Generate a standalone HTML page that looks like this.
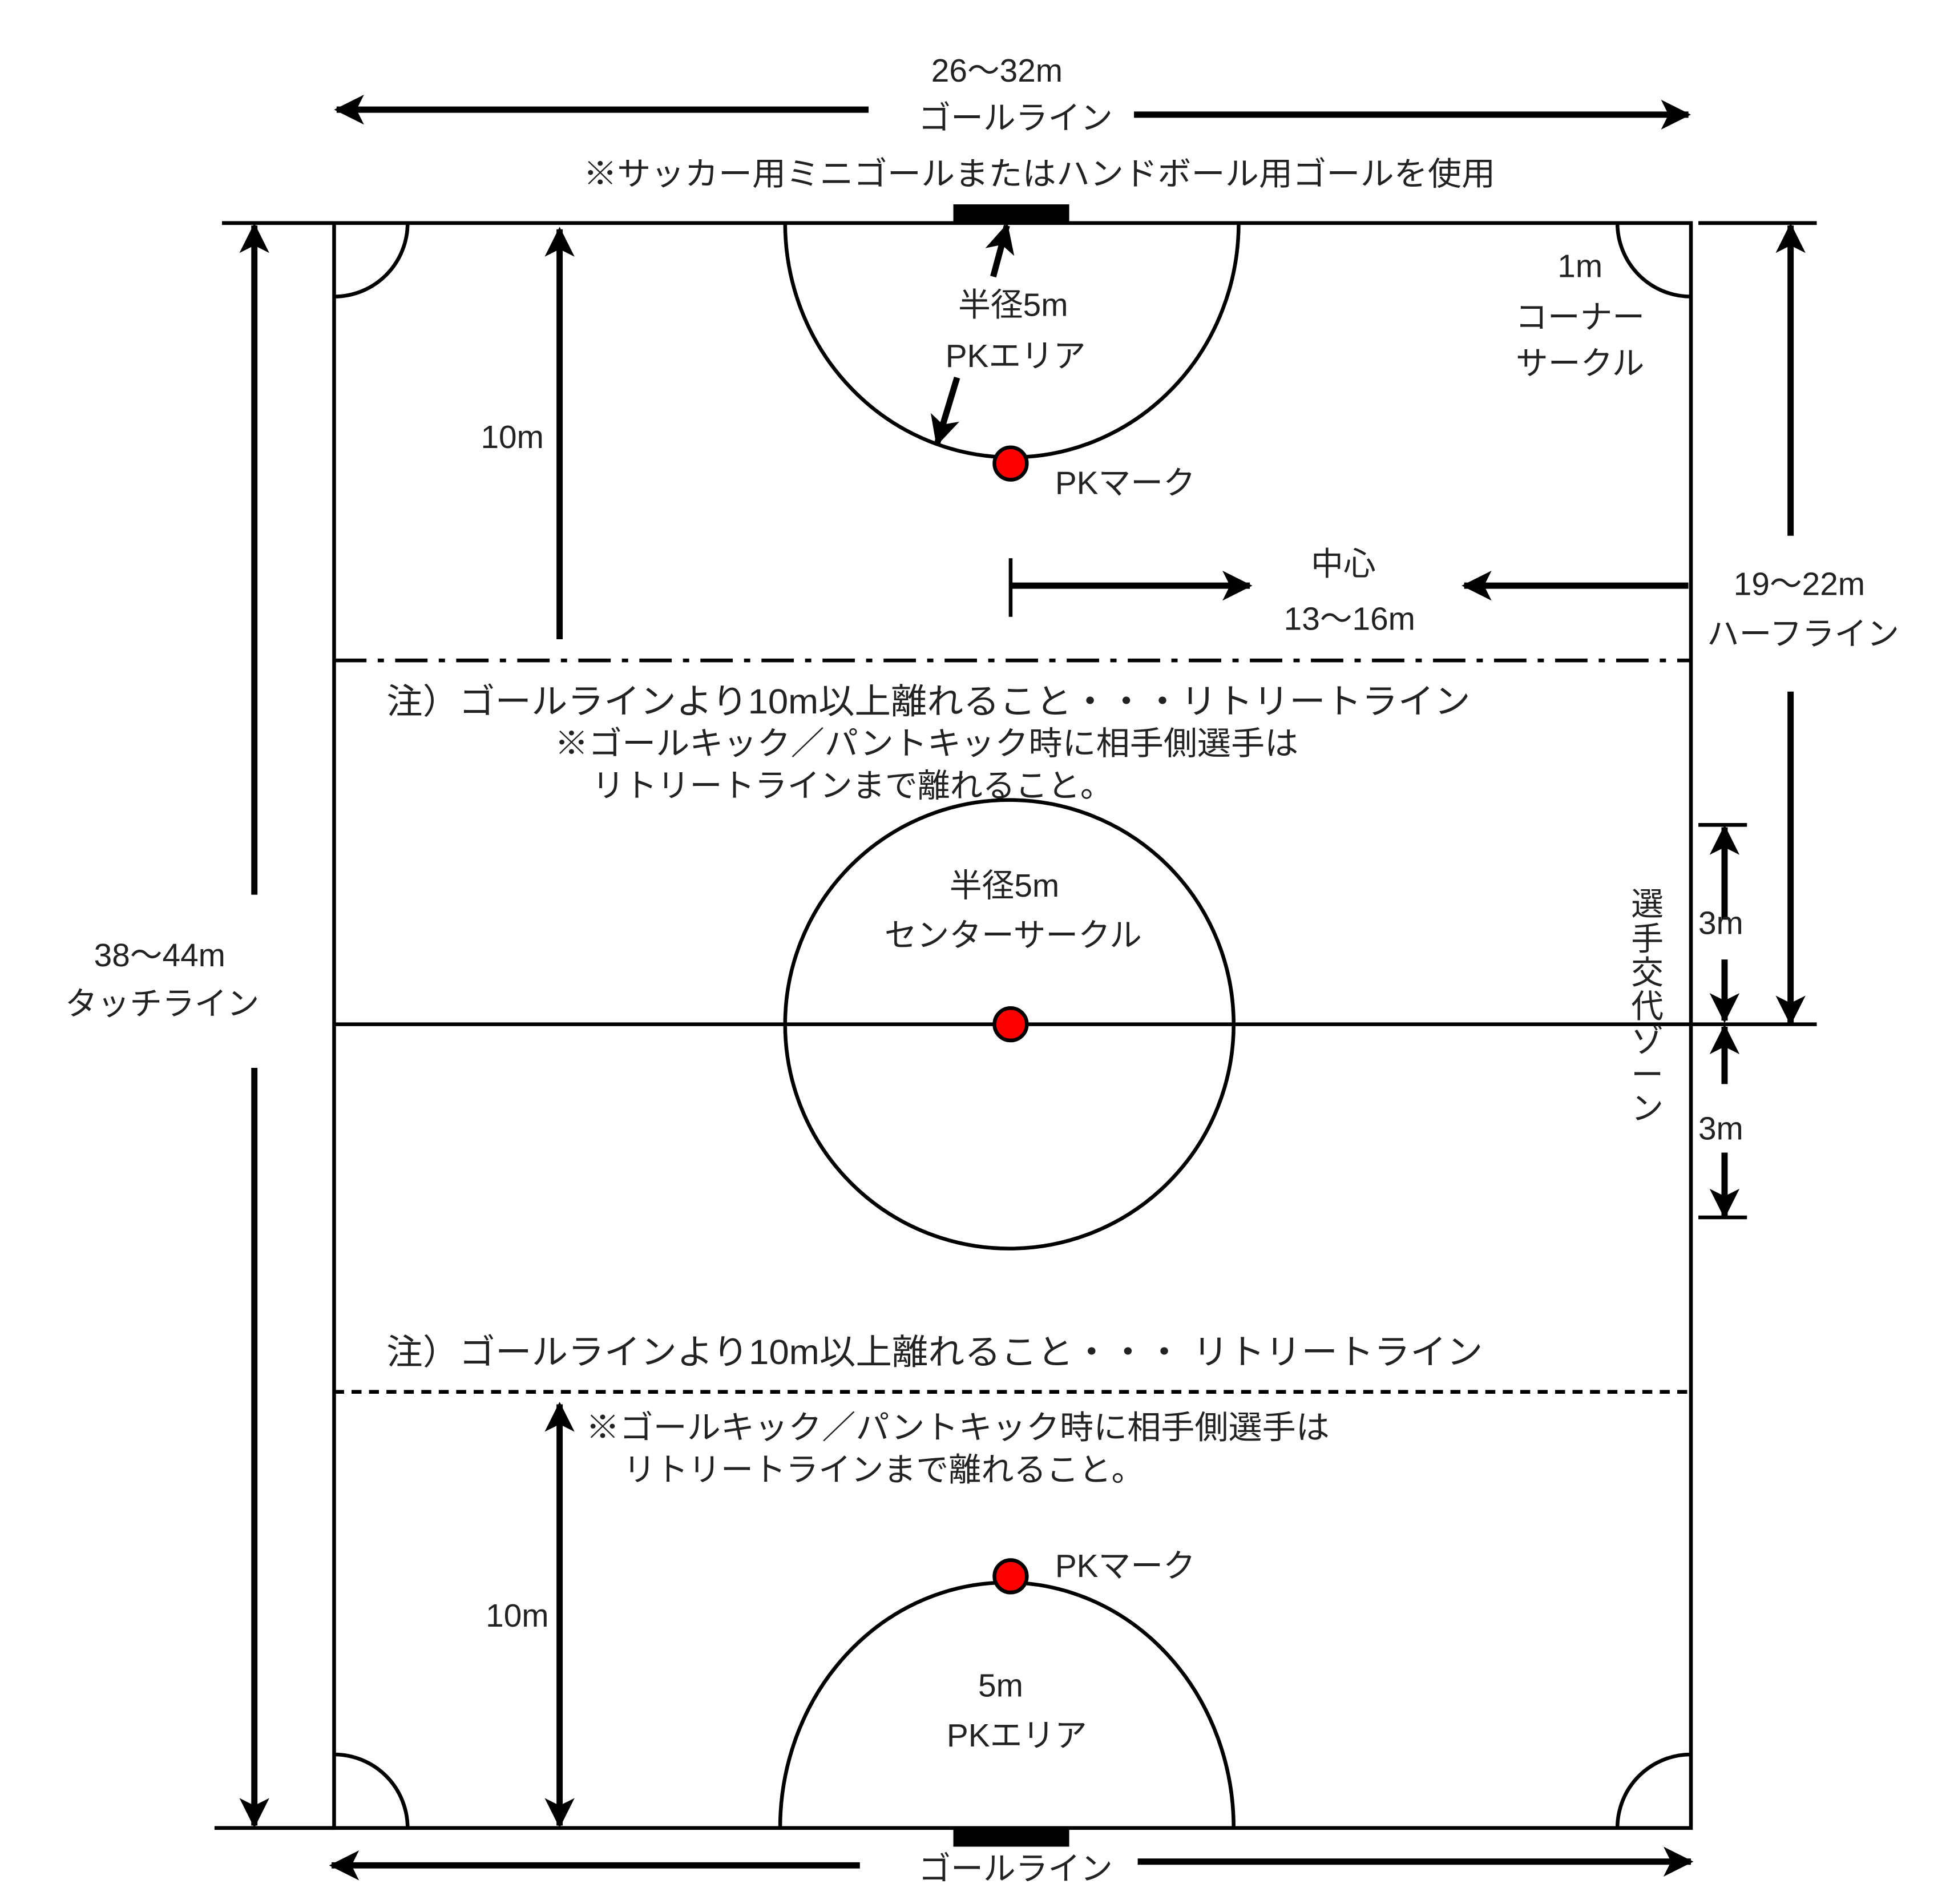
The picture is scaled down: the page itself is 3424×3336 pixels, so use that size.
<!DOCTYPE html>
<html><head><meta charset="utf-8"><style>
html,body{margin:0;padding:0;background:#fff}
svg{display:block}
text{font-family:"Liberation Sans","Noto Sans CJK JP",sans-serif;font-size:26px;fill:#222;dominant-baseline:central}
</style></head><body>
<svg width="3424" height="3336" viewBox="0 0 1568 1528" xmlns="http://www.w3.org/2000/svg">
<defs>
<marker id="a" markerUnits="userSpaceOnUse" markerWidth="30" markerHeight="30" refX="22" refY="12" orient="auto">
<path d="M0,0 L24,12 L0,24 L6,12 Z" fill="#000"/>
</marker>
</defs>
<rect width="1568" height="1528" fill="#fff"/>
<g stroke="#000" stroke-width="5" fill="none">
<line x1="697" y1="88" x2="270" y2="88" marker-end="url(#a)"/>
<line x1="910" y1="92" x2="1355" y2="92" marker-end="url(#a)"/>
<line x1="690" y1="1497" x2="266" y2="1497" marker-end="url(#a)"/>
<line x1="913" y1="1494" x2="1357" y2="1494" marker-end="url(#a)"/>
</g>
<text x="800" y="57" text-anchor="middle">26～32m</text>
<text x="815" y="95" text-anchor="middle">ゴールライン</text>
<text x="468" y="140" textLength="732" lengthAdjust="spacingAndGlyphs">※サッカー用ミニゴールまたはハンドボール用ゴールを使用</text>
<text x="815" y="1500" text-anchor="middle">ゴールライン</text>
<g stroke="#000" stroke-width="3" fill="none">
<rect x="268" y="179" width="1089" height="1288"/>
<path d="M327,179 A59,59 0 0 1 268,238"/>
<path d="M1298,179 A59,59 0 0 0 1357,238"/>
<path d="M268,1408 A59,59 0 0 1 327,1467"/>
<path d="M1357,1408 A59,59 0 0 0 1298,1467"/>
<path d="M630,179 A182,188 0 0 0 994,179"/>
<path d="M626,1467 A182,197 0 0 1 990,1467"/>
<ellipse cx="810" cy="822" rx="180" ry="180"/>
<line x1="268" y1="822" x2="1357" y2="822"/>
<line x1="178" y1="179" x2="268" y2="179"/>
<line x1="172" y1="1467" x2="268" y2="1467"/>
<line x1="1363" y1="179" x2="1458" y2="179"/>
<line x1="1357" y1="822" x2="1458" y2="822"/>
<line x1="1363" y1="662" x2="1402" y2="662"/>
<line x1="1363" y1="977" x2="1402" y2="977"/>
<line x1="268" y1="530" x2="1357" y2="530" stroke-dasharray="26,9,5,9"/>
<line x1="268" y1="1117" x2="1357" y2="1117" stroke-dasharray="8,6"/>
</g>
<rect x="765" y="164" width="93" height="15" fill="#000"/>
<rect x="765" y="1467" width="93" height="15" fill="#000"/>
<g stroke="#000" stroke-width="5" fill="none">
<line x1="797" y1="222" x2="808" y2="181" marker-end="url(#a)"/>
<line x1="768" y1="303" x2="752" y2="356" marker-end="url(#a)"/>
<line x1="449" y1="513" x2="449" y2="184" marker-end="url(#a)"/>
<line x1="811" y1="448" x2="811" y2="495" stroke-width="3"/>
<line x1="811" y1="470" x2="1003" y2="470" marker-end="url(#a)"/>
<line x1="1355" y1="470" x2="1175" y2="470" marker-end="url(#a)"/>
<line x1="1437" y1="430" x2="1437" y2="181" marker-end="url(#a)"/>
<line x1="1437" y1="555" x2="1437" y2="821" marker-end="url(#a)"/>
<line x1="1384" y1="738" x2="1384" y2="664" marker-end="url(#a)"/>
<line x1="1384" y1="770" x2="1384" y2="819" marker-end="url(#a)"/>
<line x1="1384" y1="870" x2="1384" y2="824" marker-end="url(#a)"/>
<line x1="1384" y1="925" x2="1384" y2="976" marker-end="url(#a)"/>
<line x1="204" y1="718" x2="204" y2="181" marker-end="url(#a)"/>
<line x1="204" y1="857" x2="204" y2="1465" marker-end="url(#a)"/>
<line x1="449" y1="1296" x2="449" y2="1127" marker-end="url(#a)"/>
<line x1="449" y1="1296" x2="449" y2="1465" marker-end="url(#a)"/>
</g>
<g fill="#f00" stroke="#000" stroke-width="3">
<circle cx="811" cy="372" r="13"/>
<circle cx="811" cy="822" r="13"/>
<circle cx="811" cy="1265" r="13"/>
</g>
<text x="813" y="245" text-anchor="middle">半径5m</text>
<text x="815" y="286" text-anchor="middle">PKエリア</text>
<text x="903" y="388" text-anchor="middle">PKマーク</text>
<text x="1268" y="214" text-anchor="middle">1m</text>
<text x="1268" y="255" text-anchor="middle">コーナー</text>
<text x="1268" y="292" text-anchor="middle">サークル</text>
<text x="411" y="351" text-anchor="middle">10m</text>
<text x="1078" y="453" text-anchor="middle">中心</text>
<text x="1083" y="497" text-anchor="middle">13～16m</text>
<text x="1444" y="469" text-anchor="middle">19～22m</text>
<text x="1447" y="509" text-anchor="middle">ハーフライン</text>
<text x="310" y="563" style="font-size:28px" textLength="870" lengthAdjust="spacingAndGlyphs">注）ゴールラインより10m以上離れること・・・リトリートライン</text>
<text x="445" y="597" textLength="597" lengthAdjust="spacingAndGlyphs">※ゴールキック／パントキック時に相手側選手は</text>
<text x="475" y="631" textLength="418" lengthAdjust="spacingAndGlyphs">リトリートラインまで離れること。</text>
<text x="806" y="711" text-anchor="middle">半径5m</text>
<text x="813" y="751" text-anchor="middle">センターサークル</text>
<text x="1381" y="741" text-anchor="middle">3m</text>
<text x="1381" y="906" text-anchor="middle">3m</text>
<g text-anchor="middle">
<text x="1322" y="726">選</text><text x="1322" y="754">手</text><text x="1322" y="781">交</text><text x="1322" y="808">代</text><text x="1322" y="836">ゾ</text><text x="1322" y="863">ー</text><text x="1322" y="890">ン</text>
</g>
<text x="128" y="767" text-anchor="middle">38～44m</text>
<text x="130" y="806" text-anchor="middle">タッチライン</text>
<text x="310" y="1085" style="font-size:28px" textLength="880" lengthAdjust="spacingAndGlyphs">注）ゴールラインより10m以上離れること・・・ リトリートライン</text>
<text x="470" y="1146" textLength="597" lengthAdjust="spacingAndGlyphs">※ゴールキック／パントキック時に相手側選手は</text>
<text x="500" y="1180" textLength="418" lengthAdjust="spacingAndGlyphs">リトリートラインまで離れること。</text>
<text x="415" y="1297" text-anchor="middle">10m</text>
<text x="903" y="1257" text-anchor="middle">PKマーク</text>
<text x="803" y="1353" text-anchor="middle">5m</text>
<text x="816" y="1393" text-anchor="middle">PKエリア</text>
</svg>
</body></html>
